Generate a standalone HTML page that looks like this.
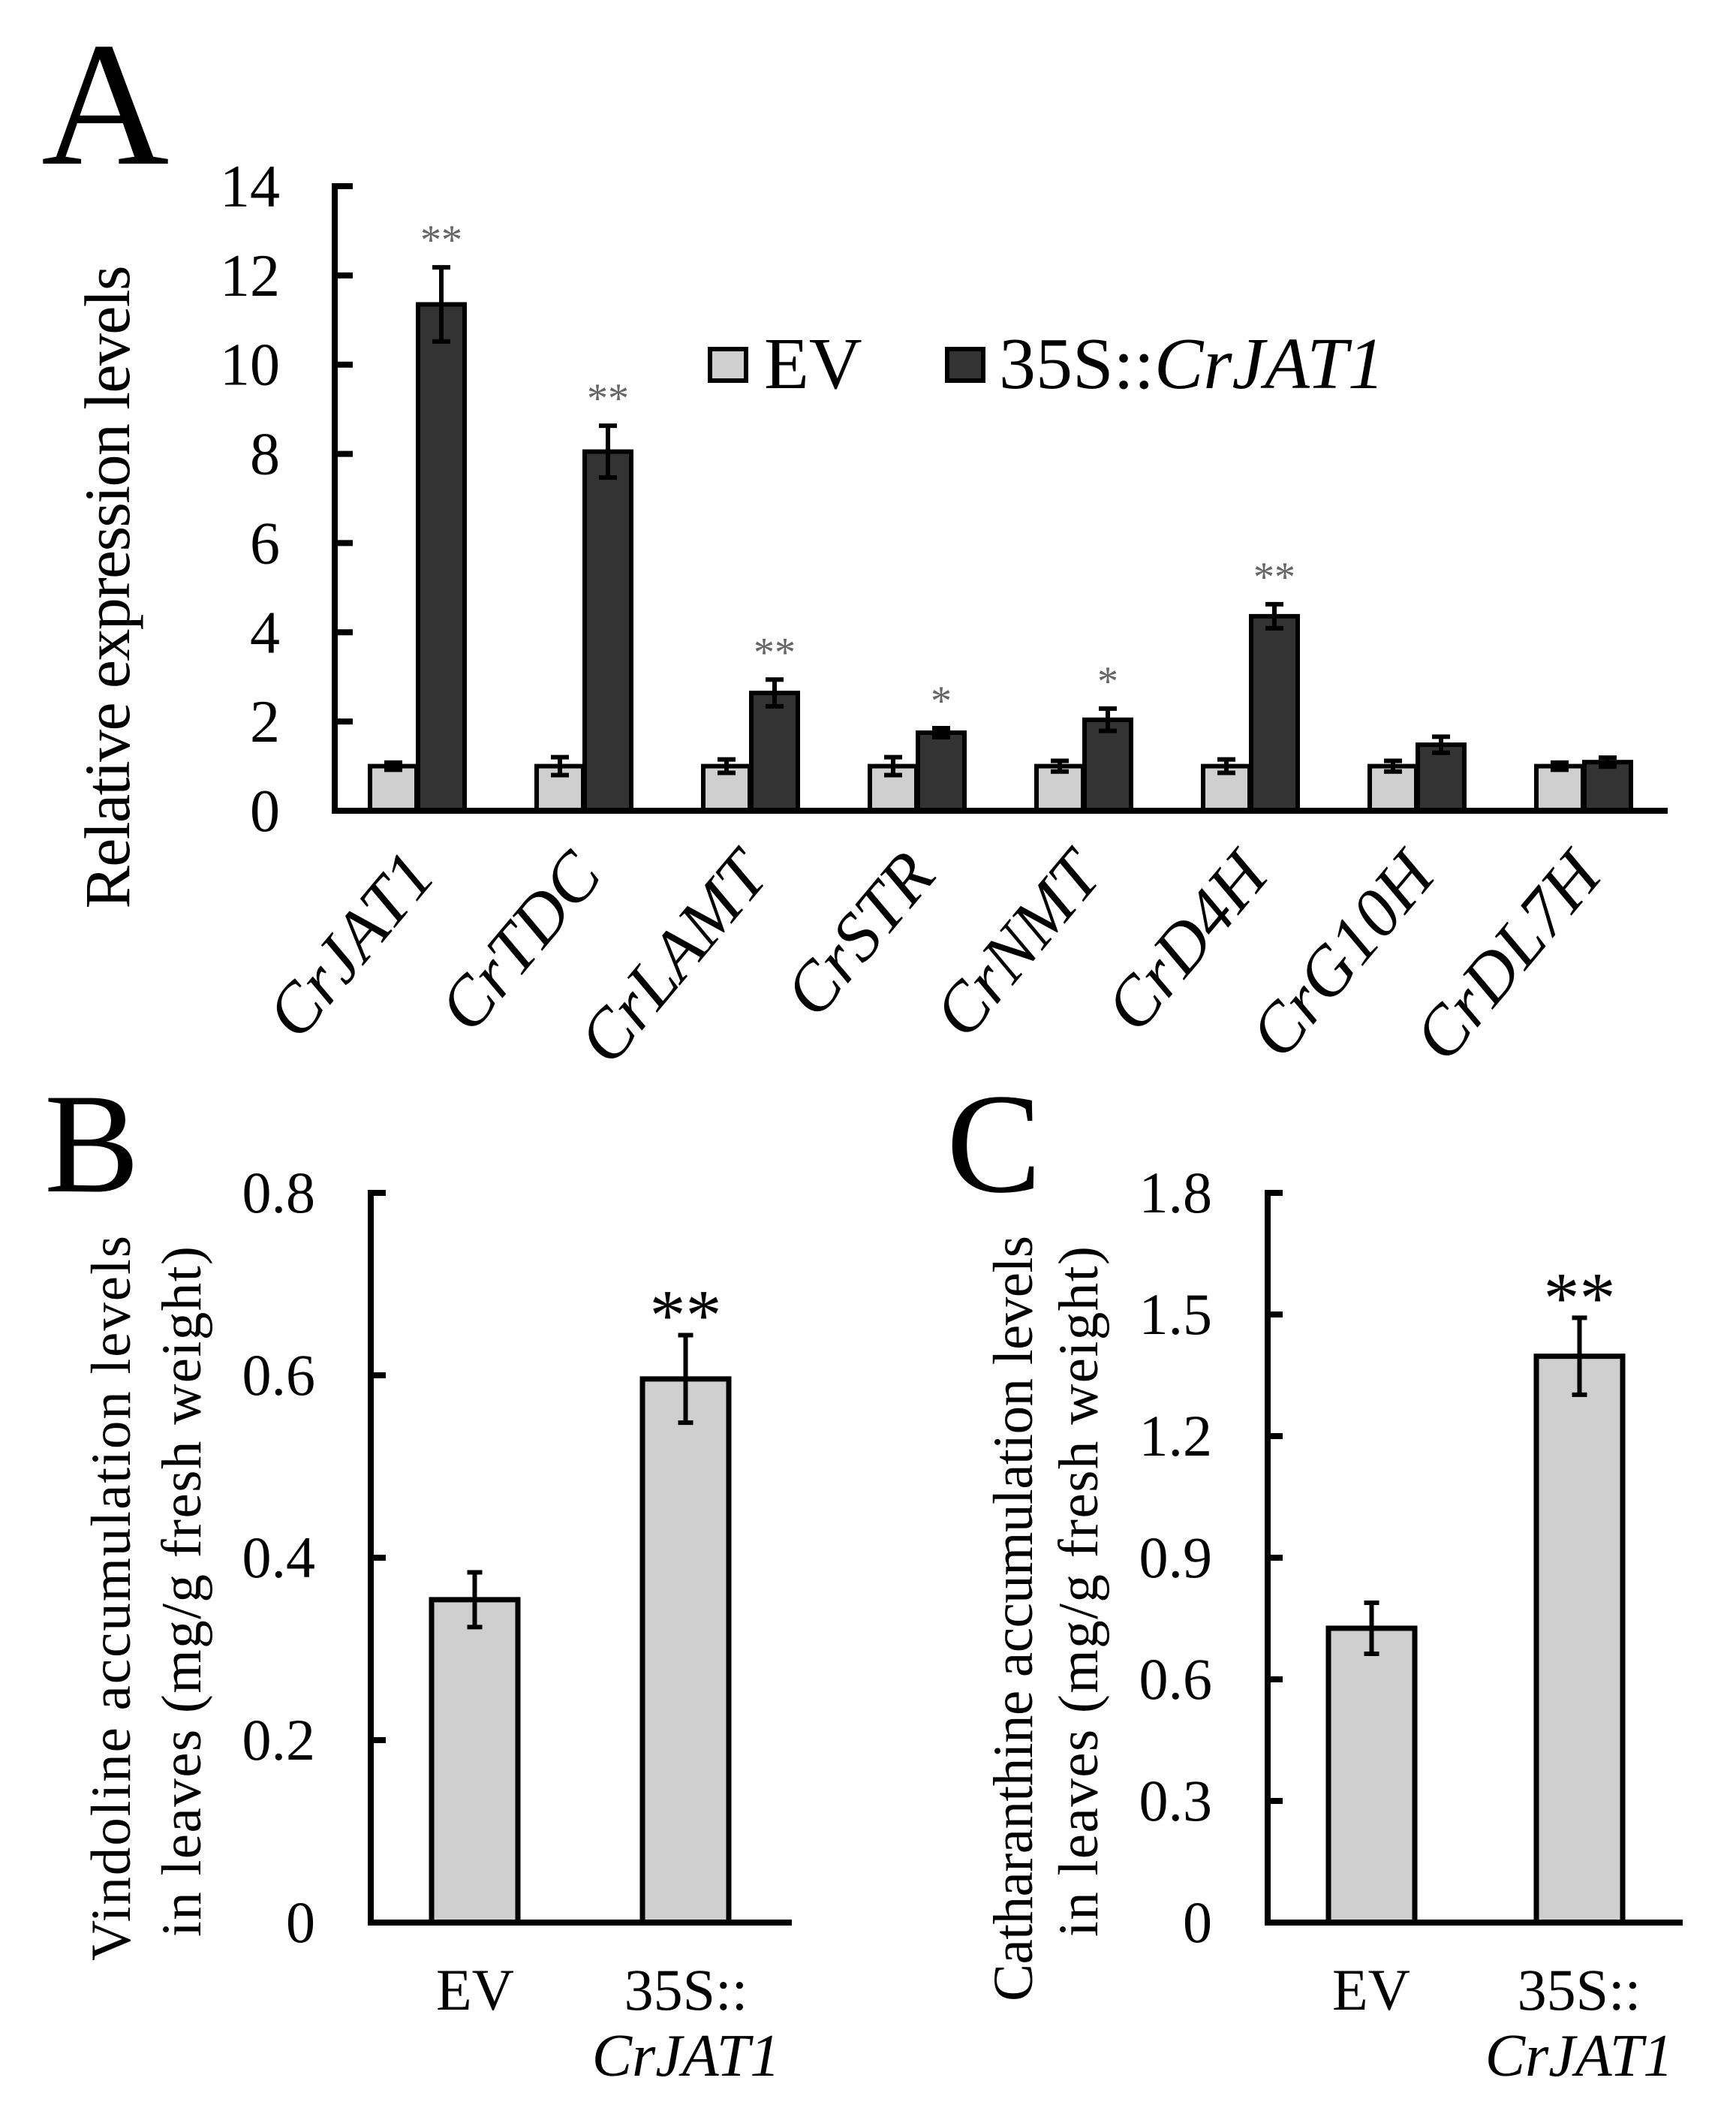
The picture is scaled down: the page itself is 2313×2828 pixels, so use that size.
<!DOCTYPE html>
<html><head><meta charset="utf-8"><style>
html,body{margin:0;padding:0;background:#fff;}
svg{display:block;font-family:"Liberation Serif","DejaVu Serif",serif;}
</style></head><body>
<svg id="fig" width="2313" height="2828" viewBox="0 0 2313 2828" xmlns="http://www.w3.org/2000/svg">
<g id="gA"></g>
<g id="gB"></g>
<g id="gC"></g>
</svg>
<script>
// Panel A data
const genes = ["CrJAT1","CrTDC","CrLAMT","CrSTR","CrNMT","CrD4H","CrG10H","CrDL7H"];
const evValues = [1.0,1.0,1.0,1.0,1.0,1.0,1.0,1.0];
const evErrors = [0.08,0.2,0.15,0.2,0.12,0.15,0.12,0.08];
const oeValues = [11.35,8.05,2.64,1.75,2.04,4.36,1.48,1.09];
const oeErrors = [0.83,0.58,0.3,0.1,0.25,0.27,0.18,0.1];
const oeSig = ["**","**","**","*","*","**","",""];
const yTicksA = [0,2,4,6,8,10,12,14];
// Panel B data
const catsBC = ["EV","35S::CrJAT1"];
const vindValues = [0.354,0.596];
const vindErrors = [0.03,0.048];
const vindSig = ["","**"];
const yTicksB = ["0","0.2","0.4","0.6","0.8"];
// Panel C data
const cathValues = [0.726,1.397];
const cathErrors = [0.063,0.095];
const cathSig = ["","**"];
const yTicksC = ["0","0.3","0.6","0.9","1.2","1.5","1.8"];

const NS="http://www.w3.org/2000/svg";
function mk(parent,tag,attrs,text){const e=document.createElementNS(NS,tag);for(const k in attrs)e.setAttribute(k,attrs[k]);if(text!==undefined)e.textContent=text;parent.appendChild(e);return e;}

// ---------- Panel A ----------
(function(){
  const g=document.getElementById('gA');
  const x0=446, yBase=1080, yTop=248, xEnd=2222, vmax=14;
  const y=v=>yBase-(v/vmax)*(yBase-yTop);
  const gx=i=>493+222*i;
  const bw=62;
  let t=mk(g,'text',{x:55,y:218,'font-size':236},'A');
  
  genes.forEach((gn,i)=>{
    const series=[[evValues,evErrors,'#cfcfcf',gx(i)],[oeValues,oeErrors,'#333333',gx(i)+bw+2]];
    series.forEach((s,k)=>{
      const v=s[0][i],e=s[1][i],bx=s[3];
      const r=mk(g,'rect',{x:bx,y:y(v),width:bw,height:yBase-y(v),fill:s[2],stroke:'#000','stroke-width':6});
      
      
      const cx=bx+bw/2;
      const eb=mk(g,'path',{d:`M${cx},${y(v+e)}V${y(v-e)}M${cx-12},${y(v+e)}H${cx+12}M${cx-12},${y(v-e)}H${cx+12}`,stroke:'#000','stroke-width':6,fill:'none'});
      
      
    });
    if(oeSig[i]){
      const cx=gx(i)+bw+2+bw/2;
      const st=mk(g,'text',{x:cx,y:y(oeValues[i]+oeErrors[i])-18,'font-size':56,'text-anchor':'middle',fill:'#666'},oeSig[i]);
      
      
    }
    const lx=gx(i)+bw+28, ly=1168;
    const lb=mk(g,'text',{x:lx,y:ly,'font-size':92,'font-style':'italic','text-anchor':'end',transform:`rotate(-50 ${lx} ${ly})`},gn);
    
    
  });
  const ax=mk(g,'path',{d:`M${x0},${yTop-4}V${yBase}H${xEnd}`,stroke:'#000','stroke-width':8,fill:'none'});
  
  yTicksA.forEach(v=>{
    const tk=mk(g,'line',{x1:x0,x2:x0+24,y1:y(v),y2:y(v),stroke:'#000','stroke-width':8});
    
    const tl=mk(g,'text',{x:373,y:y(v)+27,'font-size':80,'text-anchor':'end'},String(v));
    
  });
  const yl=mk(g,'text',{x:0,y:0,'font-size':86,'text-anchor':'middle',transform:'translate(172 782) rotate(-90)',textLength:857,lengthAdjust:'spacing'},'Relative expression levels');
  
  const lg=mk(g,'g',{});
  
  const b1=mk(lg,'rect',{x:946,y:465,width:48,height:42,fill:'#cfcfcf',stroke:'#000','stroke-width':6});
  
  const t1=mk(lg,'text',{x:1018,y:517,'font-size':98},'EV');
  
  const b2=mk(lg,'rect',{x:1262,y:465,width:48,height:42,fill:'#333',stroke:'#000','stroke-width':6});
  
  const t2=mk(lg,'text',{x:1331,y:517,'font-size':98},'35S::');
  
  mk(t2,'tspan',{'font-style':'italic'},'CrJAT1');
})();

// ---------- Panels B & C ----------
function smallPanel(gid,letter,letterX,axX,axEnd,tickRight,ticks,vmax,vals,errs,sig,barXs,lab1,lab1X,lab1Len,lab1C,lab2X,lab2Len,lab2C,evX,oeX){
  const g=document.getElementById(gid);
  const yBase=2561,yTop=1589;
  const y=v=>yBase-(v/vmax)*(yBase-yTop);
  const L=mk(g,'text',{x:letterX,y:1587,'font-size':190},letter);
  
  const bw=115;
  vals.forEach((v,i)=>{
    const r=mk(g,'rect',{x:barXs[i],y:y(v),width:bw,height:yBase-y(v),fill:'#cfcfcf',stroke:'#000','stroke-width':7});
    
    
    const cx=barXs[i]+bw/2,e=errs[i];
    const eb=mk(g,'path',{d:`M${cx},${y(v+e)}V${y(v-e)}M${cx-10},${y(v+e)}H${cx+10}M${cx-10},${y(v-e)}H${cx+10}`,stroke:'#000','stroke-width':6,fill:'none'});
    
    
    if(sig[i]){
      const st=mk(g,'text',{x:cx,y:y(v+e)+6,'font-size':96,'text-anchor':'middle'},sig[i]);
      
      
    }
  });
  const ax=mk(g,'path',{d:`M${axX},${yTop-4}V${yBase}H${axEnd}`,stroke:'#000','stroke-width':8,fill:'none'});
  
  ticks.forEach(tv=>{
    const yy=y(parseFloat(tv));
    const tk=mk(g,'line',{x1:axX,x2:axX+20,y1:yy,y2:yy,stroke:'#000','stroke-width':8});
    
    const tl=mk(g,'text',{x:tickRight,y:yy+26,'font-size':78,'text-anchor':'end'},tv);
    
  });
  const y1=mk(g,'text',{x:0,y:0,'font-size':75,'text-anchor':'middle',transform:`translate(${lab1X} ${lab1C}) rotate(-90)`,textLength:lab1Len,lengthAdjust:'spacing'},lab1);
  
  const y2=mk(g,'text',{x:0,y:0,'font-size':75,'text-anchor':'middle',transform:`translate(${lab2X} ${lab2C}) rotate(-90)`,textLength:lab2Len,lengthAdjust:'spacing'},'in leaves (mg/g fresh weight)');
  
  const e1=mk(g,'text',{x:evX,y:2677,'font-size':78,'text-anchor':'middle'},catsBC[0]);
  
  const parts=catsBC[1].split('::');
  const e2=mk(g,'text',{x:oeX,y:2677,'font-size':78,'text-anchor':'middle'},parts[0]+'::');
  
  const e3=mk(g,'text',{x:oeX,y:2765,'font-size':80,'text-anchor':'middle','font-style':'italic'},parts[1]);
  
}
smallPanel('gB','B',59,494,1055,420,yTicksB,0.8,vindValues,vindErrors,vindSig,[575,856],
  'Vindoline accumulation levels',173,966,2129,267,920,2120,633,914);
smallPanel('gC','C',1261,1689,2242,1615,yTicksC,1.8,cathValues,cathErrors,cathSig,[1770,2047],
  'Catharanthine accumulation levels',1375,1020,2156,1462,920,2120,1827,2104);
</script>
</body></html>
